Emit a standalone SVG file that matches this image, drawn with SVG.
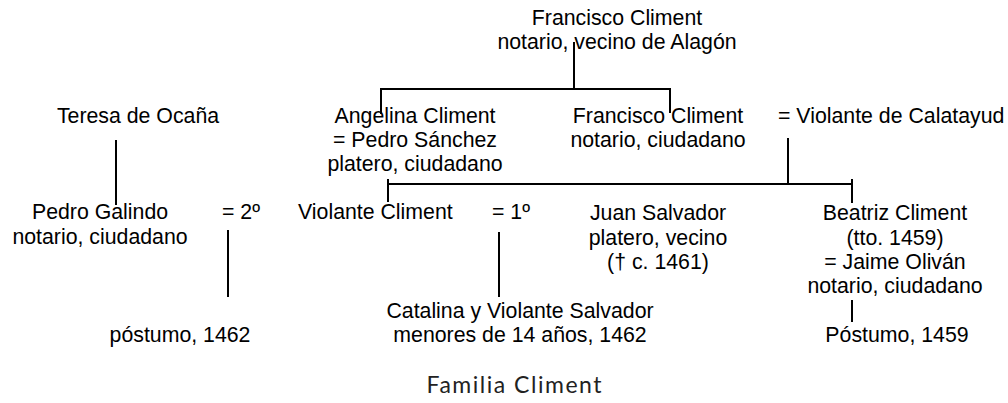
<svg xmlns="http://www.w3.org/2000/svg" width="1008" height="403" viewBox="0 0 1008 403">
<style>
text{font-family:"Liberation Sans",Arial,sans-serif;font-size:21.3px;fill:#000}
.m{text-anchor:middle}
.t{font-family:Lato,"Open Sans",sans-serif;font-size:23px;fill:#222}
#connectors line{stroke:#000;stroke-width:2}
</style>
<rect width="1008" height="403" fill="#fff"/>
<g id="connectors">
<line x1="574" y1="42" x2="574" y2="89"/>
<line x1="380" y1="89" x2="671" y2="89"/>
<line x1="381" y1="88" x2="381" y2="114"/>
<line x1="670" y1="88" x2="670" y2="113"/>
<line x1="116" y1="140" x2="116" y2="205"/>
<line x1="788" y1="138" x2="788" y2="184"/>
<line x1="388" y1="184" x2="853" y2="184"/>
<line x1="388" y1="179" x2="388" y2="202"/>
<line x1="852" y1="179" x2="852" y2="203"/>
<line x1="228" y1="230" x2="228" y2="297"/>
<line x1="499" y1="232" x2="499" y2="297"/>
<line x1="852" y1="300" x2="852" y2="322"/>
</g>
<g id="francisco-sr"><text class="m" x="617" y="25">Francisco Climent</text><text class="m" x="617" y="49">notario, vecino de Alagón</text></g>
<g id="teresa"><text class="m" x="138" y="123">Teresa de Ocaña</text></g>
<g id="angelina"><text class="m" x="415" y="123">Angelina Climent</text><text class="m" x="415" y="147">= Pedro Sánchez</text><text class="m" x="415" y="171">platero, ciudadano</text></g>
<g id="francisco-jr"><text class="m" x="658" y="123">Francisco Climent</text><text class="m" x="658" y="147">notario, ciudadano</text></g>
<g id="violante-calatayud"><text x="778" y="123">= Violante de Calatayud</text></g>
<g id="pedro-galindo"><text class="m" x="100" y="219">Pedro Galindo</text><text class="m" x="100" y="244">notario, ciudadano</text></g>
<g id="m2"><text x="222" y="219">= 2º</text></g>
<g id="violante-climent"><text x="298" y="219">Violante Climent</text></g>
<g id="m1"><text x="492" y="219">= 1º</text></g>
<g id="juan-salvador"><text class="m" x="658" y="220">Juan Salvador</text><text class="m" x="658" y="245">platero, vecino</text><text class="m" x="658" y="269">(† c. 1461)</text></g>
<g id="beatriz"><text class="m" x="895" y="220">Beatriz Climent</text><text class="m" x="895" y="245">(tto. 1459)</text><text class="m" x="895" y="269">= Jaime Oliván</text><text class="m" x="895" y="293">notario, ciudadano</text></g>
<g id="postumo-1462"><text class="m" x="180" y="342">póstumo, 1462</text></g>
<g id="catalina"><text class="m" x="520" y="318">Catalina y Violante Salvador</text><text class="m" x="520" y="342">menores de 14 años, 1462</text></g>
<g id="postumo-1459"><text class="m" x="897" y="342">Póstumo, 1459</text></g>
<text class="t m" x="514" y="393" textLength="175">Familia Climent</text>
</svg>
